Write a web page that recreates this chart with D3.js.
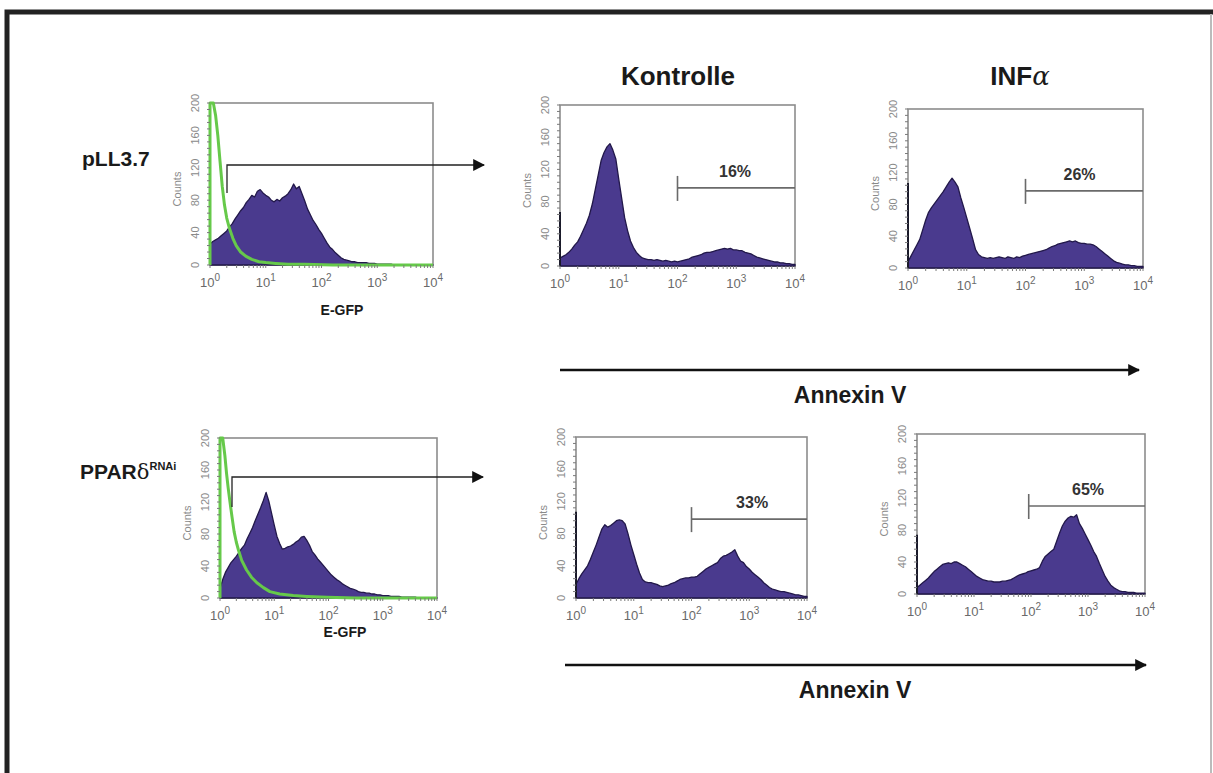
<!DOCTYPE html>
<html>
<head>
<meta charset="utf-8">
<script src="https://cdn.jsdelivr.net/npm/d3@7"></script>
<style>
  body { margin: 0; background: #fff; }
  svg { display: block; font-family: "Liberation Sans", Arial, sans-serif; }
</style>
</head>
<body>
<svg id="chart" width="1213" height="773"></svg>
<script>
// channel grid: 81 bins, 0.05 decade apart (10^0 .. 10^4)
const binLog = d3.range(81).map(i => i * 0.05);

const rowLabels = ["pLL3.7", "PPARδ"];
const colTitles = ["Kontrolle", "INFα"];
const yTicks = [0, 40, 80, 120, 160, 200];
const xDecades = [0, 1, 2, 3, 4];
const gatePercents = ["16%", "26%", "33%", "65%"];

// E-GFP histograms (purple)
const egfpTop = [26, 29, 31, 33, 36, 39, 42, 47, 51, 57, 62, 67, 71, 77, 81, 86, 84, 91, 93, 89,
  86, 84, 80, 78, 81, 79, 83, 85, 88, 93, 100, 94, 97, 88, 79, 69, 62, 55, 50, 44,
  39, 33, 27, 22, 19, 15, 12, 9, 7, 6, 5, 4, 4, 3, 3, 3, 3, 2, 2, 2,
  1, 1, 1, 1, 1, 1, 0, 0, 0, 0, 0, 0, 0, 0, 0, 0, 0, 0, 0, 0, 0];
const egfpBottom = [12, 23, 32, 38, 44, 48, 52, 57, 62, 66, 74, 81, 88, 97, 105, 113, 122, 132, 121, 106,
  91, 77, 68, 61, 62, 64, 65, 67, 70, 72, 76, 77, 72, 66, 58, 54, 49, 45, 41, 37,
  33, 29, 26, 23, 21, 18, 16, 14, 12, 11, 10, 8, 7, 7, 6, 6, 5, 5, 4, 4,
  3, 3, 3, 2, 2, 2, 2, 1, 1, 1, 1, 1, 1, 0, 0, 0, 0, 0, 0, 0, 0];

// E-GFP negative control (green line)
const greenTopLog = [0, 0, 0.06, 0.10, 0.14, 0.18, 0.22, 0.26, 0.30, 0.35, 0.41, 0.47, 0.55, 0.64, 0.75, 0.88, 1.0, 1.18, 1.4, 1.7, 2.2, 4];
const greenTop = [0, 200, 200, 185, 160, 128, 97, 74, 58, 45, 33, 24, 16, 11, 7, 4, 3, 2, 1, 1, 0, 0];
const greenBottomLog = [0, 0, 0.05, 0.09, 0.12, 0.15, 0.18, 0.22, 0.26, 0.30, 0.34, 0.40, 0.49, 0.58, 0.68, 0.80, 0.92, 1.1, 1.35, 1.6, 1.97, 2.5, 4];
const greenBottom = [0, 200, 200, 178, 156, 138, 122, 102, 83, 70, 60, 47, 35, 26, 19, 13, 8, 5, 3, 2, 1, 0, 0];

// Annexin V histograms
const annexKontrolleTop = [10, 12, 14, 17, 21, 26, 30, 37, 45, 53, 63, 77, 95, 113, 131, 141, 148, 152, 144, 133,
  108, 84, 60, 44, 31, 23, 17, 13, 10, 9, 8, 8, 7, 8, 7, 6, 7, 6, 5, 6,
  5, 6, 7, 8, 9, 11, 12, 13, 14, 16, 17, 17, 18, 19, 20, 21, 22, 21, 22, 20,
  20, 19, 19, 17, 16, 15, 13, 11, 10, 9, 8, 7, 6, 5, 5, 4, 4, 3, 3, 2, 2];
const annexInfTop = [8, 15, 22, 29, 36, 48, 60, 70, 76, 81, 86, 91, 96, 102, 108, 113, 108, 102, 88, 76,
  63, 50, 37, 23, 17, 14, 13, 12, 13, 12, 13, 14, 13, 12, 14, 13, 12, 14, 13, 15,
  16, 17, 18, 19, 20, 21, 22, 23, 25, 27, 28, 30, 31, 32, 33, 34, 33, 34, 32, 31,
  31, 30, 30, 29, 27, 24, 21, 18, 15, 12, 9, 7, 6, 5, 4, 4, 3, 3, 2, 2, 2];
const annexKontrolleBottom = [17, 24, 30, 35, 40, 48, 57, 66, 76, 86, 91, 88, 90, 93, 96, 97, 96, 92, 80, 66,
  54, 42, 31, 23, 20, 19, 19, 18, 17, 15, 14, 15, 16, 18, 19, 21, 23, 24, 25, 25,
  26, 26, 27, 30, 33, 36, 38, 40, 42, 44, 49, 52, 53, 55, 57, 60, 52, 46, 44, 39,
  36, 32, 29, 26, 23, 19, 16, 13, 11, 10, 9, 8, 8, 7, 6, 5, 4, 4, 3, 2, 2];
const annexInfBottom = [8, 11, 14, 17, 20, 24, 28, 31, 34, 37, 38, 39, 38, 40, 40, 38, 36, 34, 31, 28,
  25, 22, 20, 18, 17, 16, 16, 15, 15, 15, 16, 16, 17, 18, 20, 22, 24, 25, 26, 28,
  29, 30, 31, 33, 41, 47, 50, 53, 56, 66, 76, 85, 91, 95, 97, 96, 99, 88, 82, 75,
  68, 61, 53, 47, 38, 30, 22, 16, 11, 8, 6, 4, 3, 3, 2, 2, 2, 1, 1, 1, 1];

// first-channel spike on the y axis
const firstBin = [0, 67, 107, 0, 107, 74];

const purple = "#4a3a8e", purpleDark = "#22184a", green = "#66c94a", grey = "#7a7a7a";

const svg = d3.select("#chart");

// outer frame: heavy top and left, thin grey right edge
svg.append("path").attr("d", "M7,773V12H1213")
   .attr("fill", "none").attr("stroke", "#222").attr("stroke-width", 5);
svg.append("line").attr("x1", 1211).attr("x2", 1211).attr("y1", 14).attr("y2", 773)
   .attr("stroke", "#bbb").attr("stroke-width", 2);

const panels = [
  { box: [210, 433, 103, 265], data: egfpTop, green: [greenTopLog, greenTop] },
  { box: [560, 795, 105, 266], data: annexKontrolleTop, gate: [2, 97], pct: gatePercents[0], pctAt: 2.98 },
  { box: [908, 1143, 109, 268], data: annexInfTop, gate: [2, 97], pct: gatePercents[1], pctAt: 2.92 },
  { box: [220, 437, 438, 598], data: egfpBottom, green: [greenBottomLog, greenBottom] },
  { box: [576, 807, 437, 598], data: annexKontrolleBottom, gate: [2, 98], pct: gatePercents[2], pctAt: 3.05 },
  { box: [917, 1145, 434, 594], data: annexInfBottom, gate: [1.96, 110], pct: gatePercents[3], pctAt: 3.0 }
];

panels.forEach((p, i) => {
  const [x0, x1, yT, yB] = p.box;
  const x = d3.scaleLog().domain([1, 1e4]).range([x0, x1]);
  const y = d3.scaleLinear().domain([0, 200]).range([yB, yT]);
  const g = svg.append("g").attr("class", "panel panel-" + i);

  // plot frame
  g.append("rect").attr("x", x0).attr("y", yT).attr("width", x1 - x0).attr("height", yB - yT)
   .attr("fill", "none").attr("stroke", "#8c8c8c").attr("stroke-width", 1.6);

  // histogram
  const area = d3.area()
      .x((d, j) => x(Math.pow(10, binLog[j])))
      .y0(y(0))
      .y1(d => y(Math.min(d, 200)));
  g.append("path").datum(p.data).attr("d", area)
   .attr("fill", purple).attr("stroke", purpleDark).attr("stroke-width", 1.3)
   .attr("stroke-linejoin", "round");

  if (firstBin[i]) {
    g.append("line").attr("x1", x(1)).attr("x2", x(1)).attr("y1", y(0)).attr("y2", y(firstBin[i]))
     .attr("stroke", "#1a1a2a").attr("stroke-width", 2);
  }

  if (p.green) {
    const [gl, gc] = p.green;
    const line = d3.line().x((d, j) => x(Math.pow(10, gl[j]))).y(d => y(d));
    g.append("path").datum(gc).attr("d", line)
     .attr("fill", "none").attr("stroke", green).attr("stroke-width", 3)
     .attr("stroke-linejoin", "round");
  }

  // y axis ticks and labels
  const yMinor = d3.range(0, 201, 8);
  g.selectAll(".ymin").data(yMinor).enter().append("line")
   .attr("x1", x0 - 3).attr("x2", x0).attr("y1", d => y(d)).attr("y2", d => y(d))
   .attr("stroke", grey).attr("stroke-width", 1);
  g.selectAll(".ylab").data(yTicks).enter().append("text")
   .attr("transform", d => "translate(" + (x0 - 11) + "," + y(d) + ") rotate(-90)")
   .attr("text-anchor", "middle").attr("font-size", 11).attr("fill", "#8a8a8a")
   .text(d => d);
  g.append("text")
   .attr("transform", "translate(" + (x0 - 29) + "," + ((yT + yB) / 2 + 5) + ") rotate(-90)")
   .attr("text-anchor", "middle").attr("font-size", 11).attr("fill", "#8a8a8a")
   .text("Counts");

  // x axis ticks and labels
  g.selectAll(".xmin").data(x.ticks()).enter().append("line")
   .attr("x1", d => x(d)).attr("x2", d => x(d)).attr("y1", yB).attr("y2", yB + 3)
   .attr("stroke", grey).attr("stroke-width", 1);
  const xl = g.selectAll(".xlab").data(xDecades).enter().append("text")
   .attr("x", d => x(Math.pow(10, d))).attr("y", yB + 22)
   .attr("text-anchor", "middle").attr("font-size", 13).attr("fill", "#6a6a6a");
  xl.append("tspan").text("10");
  xl.append("tspan").attr("dy", -6).attr("font-size", 10).text(d => d);

  // gate marker
  if (p.gate) {
    const gx = x(Math.pow(10, p.gate[0])), gy = y(p.gate[1]);
    g.append("line").attr("x1", gx).attr("x2", x1).attr("y1", gy).attr("y2", gy)
     .attr("stroke", "#6a6a6a").attr("stroke-width", 1.6);
    g.append("line").attr("x1", gx).attr("x2", gx).attr("y1", gy - 12).attr("y2", gy + 13)
     .attr("stroke", "#6a6a6a").attr("stroke-width", 1.6);
    g.append("text").attr("x", x(Math.pow(10, p.pctAt))).attr("y", gy - 11)
     .attr("text-anchor", "middle").attr("font-size", 16).attr("font-weight", "bold")
     .attr("fill", "#333").text(p.pct);
  }
});

// arrowhead
svg.append("defs").append("marker").attr("id", "head")
   .attr("viewBox", "0 0 10 10").attr("refX", 9).attr("refY", 5)
   .attr("markerWidth", 12).attr("markerHeight", 12).attr("markerUnits", "userSpaceOnUse")
   .attr("orient", "auto")
   .append("path").attr("d", "M0,0L10,5L0,10Z").attr("fill", "#111");

// gate arrows from the E-GFP plots
[[227, 193, 165, 484], [232, 507, 477, 483]].forEach(a => {
  svg.append("path").attr("d", "M" + a[0] + "," + a[1] + "V" + a[2] + "H" + a[3])
     .attr("fill", "none").attr("stroke", "#222").attr("stroke-width", 1.3)
     .attr("marker-end", "url(#head)");
});

// Annexin V axis arrows
[[560, 1139, 370, 850, 403], [565, 1146, 665, 855, 698]].forEach(a => {
  svg.append("line").attr("x1", a[0]).attr("x2", a[1]).attr("y1", a[2]).attr("y2", a[2])
     .attr("stroke", "#111").attr("stroke-width", 2.4).attr("marker-end", "url(#head)");
  svg.append("text").attr("x", a[3]).attr("y", a[4]).attr("text-anchor", "middle")
     .attr("font-size", 23).attr("font-weight", "bold").attr("fill", "#1a1a1a").text("Annexin V");
});

// E-GFP labels
[[342, 315], [345, 637]].forEach(a => {
  svg.append("text").attr("x", a[0]).attr("y", a[1]).attr("text-anchor", "middle")
     .attr("font-size", 14).attr("font-weight", "bold").attr("fill", "#1a1a1a").text("E-GFP");
});

// column titles
svg.append("text").attr("x", 678).attr("y", 85).attr("text-anchor", "middle")
   .attr("font-size", 26).attr("font-weight", "bold").attr("fill", "#1a1a1a").text(colTitles[0]);
const inf = svg.append("text").attr("x", 1020).attr("y", 85).attr("text-anchor", "middle")
   .attr("font-size", 26).attr("font-weight", "bold").attr("fill", "#1a1a1a");
inf.append("tspan").text(colTitles[1].slice(0, 3));
inf.append("tspan").attr("font-weight", "normal").attr("font-family", "DejaVu Serif, serif")
   .attr("font-style", "italic").text(colTitles[1].slice(3));

// row labels
svg.append("text").attr("x", 82).attr("y", 166).attr("font-size", 21).attr("font-weight", "bold")
   .attr("fill", "#1a1a1a").text(rowLabels[0]);
const ppar = svg.append("text").attr("x", 80).attr("y", 479).attr("font-size", 21)
   .attr("font-weight", "bold").attr("fill", "#1a1a1a");
ppar.append("tspan").text(rowLabels[1].slice(0, 4));
ppar.append("tspan").attr("font-weight", "normal").attr("font-family", "DejaVu Serif, serif").text("δ");
ppar.append("tspan").attr("dy", -9).attr("font-size", 11).text("RNAi");
</script>
</body>
</html>
